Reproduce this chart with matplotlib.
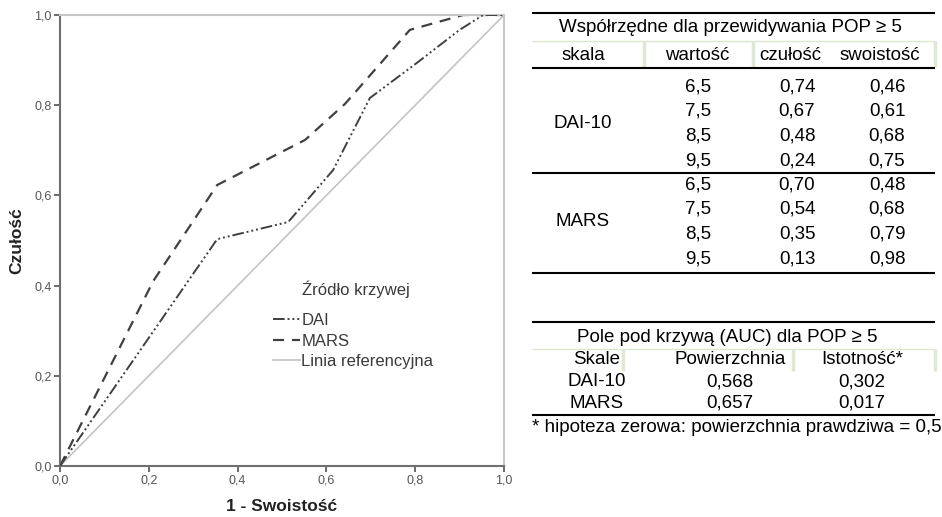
import matplotlib
matplotlib.use("Agg")
import matplotlib.pyplot as plt

plt.rcParams['font.family'] = ['Liberation Sans', 'DejaVu Sans']

# --- dane krzywych ROC ---
dai_fpr = [0.0, 0.354, 0.514, 0.615, 0.698, 0.804, 0.900, 0.953, 1.0]
dai_tpr = [0.0, 0.503, 0.541, 0.656, 0.816, 0.894, 0.967, 1.0, 1.0]
mars_fpr = [0.0, 0.210, 0.354, 0.552, 0.642, 0.788, 0.908, 1.0]
mars_tpr = [0.0, 0.410, 0.623, 0.723, 0.803, 0.967, 1.0, 1.0]
ref_line = [0.0, 1.0]

ticks = [0.0, 0.2, 0.4, 0.6, 0.8, 1.0]
tick_labels = ["0,0", "0,2", "0,4", "0,6", "0,8", "1,0"]

# --- dane tabel ---
skale = ["DAI-10", "MARS"]
wartosci = ["6,5", "7,5", "8,5", "9,5"]
dai_czulosc = ["0,74", "0,67", "0,48", "0,24"]
dai_swoistosc = ["0,46", "0,61", "0,68", "0,75"]
mars_czulosc = ["0,70", "0,54", "0,35", "0,13"]
mars_swoistosc = ["0,48", "0,68", "0,79", "0,98"]
auc_pole = ["0,568", "0,657"]
auc_istotnosc = ["0,302", "0,017"]

W, H = 942, 517
fig = plt.figure(figsize=(W / 100, H / 100), dpi=100)

# === wykres ROC ===
ax = fig.add_axes([60 / W, 1 - 466 / H, 444 / W, 451 / H])
ax.plot(ref_line, ref_line, color='#c4c4c4', lw=1.2, label='Linia referencyjna', zorder=1)
ax.plot(dai_fpr, dai_tpr, color='#404040', lw=1.4,
        dashes=(6, 1.5, 1, 1.5, 1, 1.5, 1, 1.5), label='DAI', zorder=3)
ax.plot(mars_fpr, mars_tpr, color='#404040', lw=1.6, dashes=(5, 3.5), label='MARS', zorder=2)

ax.set_xlim(0, 1)
ax.set_ylim(0, 1)
ax.set_xticks(ticks)
ax.set_xticklabels(tick_labels)
ax.set_yticks(ticks)
ax.set_yticklabels(tick_labels)
ax.tick_params(direction='out', length=4, width=1.2, color='#505050',
               labelsize=9, labelcolor='#555555', pad=2)
for side in ['left', 'bottom']:
    ax.spines[side].set_color('#707070')
    ax.spines[side].set_linewidth(1.5)
for side in ['top', 'right']:
    ax.spines[side].set_color('#c8c8c8')
    ax.spines[side].set_linewidth(1.5)

ax.set_xlabel('1 - Swoistość', fontsize=12.5, fontweight='bold', color='#222222', labelpad=9)
ax.set_ylabel('Czułość', fontsize=12.5, fontweight='bold', color='#222222', labelpad=7)

handles, labels = ax.get_legend_handles_labels()
order = [1, 2, 0]
leg = ax.legend([handles[i] for i in order], [labels[i] for i in order],
                loc='upper left', bbox_to_anchor=(213 / 444, (466 - 313) / 451),
                frameon=False, fontsize=12, handlelength=1.6, handletextpad=0.1,
                labelspacing=0.33, borderpad=0, borderaxespad=0)
for t in leg.get_texts():
    t.set_color('#3a3a3a')
ax.text(242 / 444, (466 - 289) / 451, 'Źródło krzywej', transform=ax.transAxes,
        fontsize=12, color='#3a3a3a', va='center', ha='left')

# === tabele (współrzędne w pikselach) ===
tab = fig.add_axes([0, 0, 1, 1])
tab.set_xlim(0, W)
tab.set_ylim(H, 0)
tab.axis('off')

tfont = dict(fontsize=13.5, color='black')
x0, x1 = 532, 935


def hline(y, lw=1.5, color='black'):
    tab.plot([x0, x1], [y, y], color=color, lw=lw, solid_capstyle='butt')


def vsep(xs, ya, yb):
    for x in xs:
        tab.plot([x, x], [ya, yb], color='#dfe8d2', lw=2.5, solid_capstyle='butt')


def cell(x, y, s):
    tab.text(x, y, s, ha='center', va='center', **tfont)


# tabela 1
hline(13)
cell(730, 27, 'Współrzędne dla przewidywania POP ≥ 5')
hline(41, lw=1, color='#dde6d0')
vsep([644, 753, 935], 41, 67)
head_x = [583, 697, 790, 880]
for x, lab in zip(head_x, ['skala', 'wartość', 'czułość', 'swoistość']):
    cell(x, 55, lab)
hline(68)

col_x = [583, 698, 797, 887]
row_h = 24.5
y_dai = 87
for i in range(4):
    y = y_dai + i * row_h
    cell(col_x[1], y, wartosci[i])
    cell(col_x[2], y, dai_czulosc[i])
    cell(col_x[3], y, dai_swoistosc[i])
cell(col_x[0], y_dai + 1.5 * row_h, skale[0])
hline(y_dai + 3 * row_h + 12)

y_mars = y_dai + 4 * row_h
for i in range(4):
    y = y_mars + i * row_h
    cell(col_x[1], y, wartosci[i])
    cell(col_x[2], y, mars_czulosc[i])
    cell(col_x[3], y, mars_swoistosc[i])
cell(col_x[0], y_mars + 1.5 * row_h, skale[1])
hline(y_mars + 3 * row_h + 14)

# tabela 2
hline(322)
cell(727, 337, 'Pole pod krzywą (AUC) dla POP ≥ 5')
hline(349, lw=1, color='#dde6d0')
vsep([623, 793, 935], 349, 371)
col2_x = [597, 730, 862]
for x, lab in zip(col2_x, ['Skale', 'Powierzchnia', 'Istotność*']):
    cell(x, 360, lab)
for i in range(2):
    y = 382 + i * 21
    cell(col2_x[0], y, skale[i])
    cell(col2_x[1], y, auc_pole[i])
    cell(col2_x[2], y, auc_istotnosc[i])
hline(415)
tab.text(x0, 428, '* hipoteza zerowa: powierzchnia prawdziwa = 0,5', ha='left', va='center', **tfont)

fig.savefig('out.png', dpi=100)
